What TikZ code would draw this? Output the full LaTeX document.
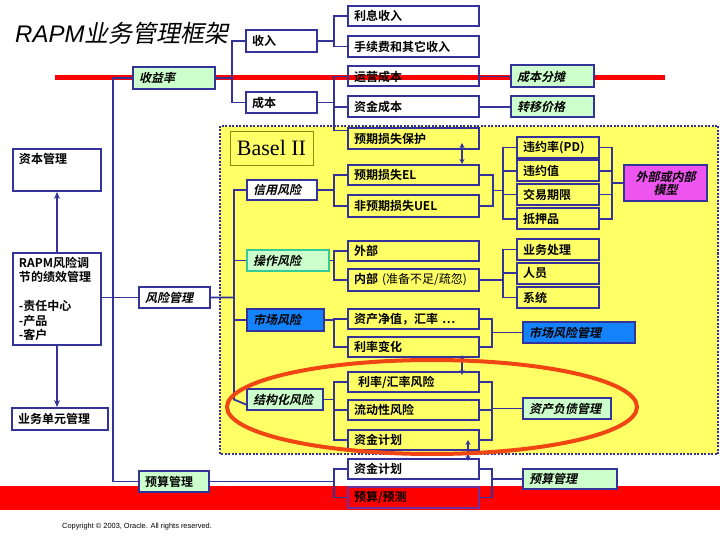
\documentclass[tikz,border=0pt]{standalone}
\usepackage{fontspec}
\usepackage{tikz}
\usetikzlibrary{
  arrows.meta,
  backgrounds,
  calc
}
\newfontfamily\cjk{Noto Sans CJK SC}
\newfontfamily\cjkbf{Noto Sans CJK SC Bold}
\newfontfamily\cjkit{Noto Sans CJK SC Bold}[FakeSlant=0.22]
\newfontfamily\cjktitle{Noto Sans CJK SC}[FakeSlant=0.2]
\newfontfamily\arial{Liberation Sans}
\newfontfamily\timesrm{Liberation Serif}
\definecolor{rapmnavy}{RGB}{51,51,153}
\definecolor{arrowblue}{RGB}{60,60,200}
\definecolor{paleleaf}{RGB}{204,255,204}
\definecolor{baselyellow}{RGB}{255,255,102}
\definecolor{mktblue}{RGB}{20,130,250}
\definecolor{opteal}{RGB}{51,204,153}
\definecolor{modelpink}{RGB}{238,85,238}
\definecolor{bandred}{RGB}{255,0,0}
\definecolor{ovalred}{RGB}{240,70,20}
\definecolor{budgetpurple}{RGB}{112,48,160}
\definecolor{baselolive}{RGB}{140,140,0}
\tikzset{
  itembox/.style={draw=rapmnavy,line width=2pt,fill=white,align=left,
    inner xsep=6pt,inner ysep=0pt,minimum height=21pt,
    font=\fontsize{12}{14}\cjkbf},
  leafbox/.style={itembox,fill=paleleaf},
  riskbox/.style={itembox,fill=baselyellow},
  tilted/.style={font=\fontsize{12}{14}\cjkit},
  colA/.style={text width=119pt},
  colB/.style={text width=70pt},
  treeline/.style={draw=rapmnavy,line width=1.8pt},
  upflow/.style={-{Stealth[length=7pt,width=6pt,fill=arrowblue]},
    line width=1.8pt,draw=rapmnavy},
  bothflow/.style={{Stealth[length=5pt,width=5pt,fill=arrowblue]}-{Stealth[length=5pt,width=5pt,fill=arrowblue]},
    line width=1.6pt,draw=rapmnavy}
}

\begin{document}
\begin{tikzpicture}[x=1pt,y=-1pt]
  \useasboundingbox (0,0) rectangle (720,540);

  \node[anchor=west,inner sep=0pt] (title) at (15,33)
    {{\fontsize{24}{26}\arial\itshape RAPM}{\fontsize{24}{26}\cjktitle 业务管理框架}};

  % revenue / cost tree
  \node[leafbox,tilted,text width=70pt,minimum height=22pt] (shouyilv) at (174,78) {收益率};
  \node[itembox,text width=59pt,minimum height=22pt] (shouru) at (281.5,41) {收入};
  \node[itembox,text width=59pt] (chengben) at (281.5,102.5) {成本};
  \node[itembox,colA,minimum height=20pt] (lixi) at (413.5,16) {利息收入};
  \node[itembox,colA] (shouxu) at (413.5,46.5) {手续费和其它收入};
  \node[itembox,colA,fill=none,minimum height=20pt] (yunying) at (413.5,76.5) {运营成本};
  \node[itembox,colA] (zijin) at (413.5,107) {资金成本};
  \node[leafbox,tilted,text width=71pt,minimum height=22pt] (ftfp) at (552.5,76.5) {成本分摊};
  \node[leafbox,tilted,text width=71pt] (zyjg) at (552.5,107) {转移价格};

  % left column
  \node[itembox,text width=76pt,minimum height=42pt,text depth=24pt] (zbgl) at (57,170) {资本管理};
  \node[itembox,text width=76pt,minimum height=92pt,
    font=\fontsize{12}{14.5}\cjkbf] (rapm) at (57,299)
    {RAPM风险调\\节的绩效管理\\[14.5pt]-责任中心\\-产品\\-客户};
  \node[itembox,text width=84pt,minimum height=22pt] (ywdy) at (60,419) {业务单元管理};
  \node[itembox,tilted,text width=59pt] (fxgl) at (174.5,297.5) {风险管理};
  \node[leafbox,text width=58pt] (ysgl) at (174,481.5) {预算管理};

  % Basel II risk types
  \node[draw=baselolive,line width=0.8pt,fill=baselyellow,minimum width=83pt,
    minimum height=34pt,font=\fontsize{22}{24}\timesrm] (basel) at (271.5,148) {Basel II};
  \node[itembox,tilted,text width=58pt,minimum height=20pt] (xinyong) at (282,190) {信用风险};
  \node[leafbox,tilted,draw=opteal,text width=70pt] (caozuo) at (288,260.5) {操作风险};
  \node[itembox,tilted,fill=mktblue,text width=65pt,minimum height=22pt] (shichang) at (285.5,320) {市场风险};
  \node[leafbox,tilted,text width=64pt] (jiegou) at (285,399.5) {结构化风险};

  \node[riskbox,colA] (yqbh) at (413.5,138.5) {预期损失保护};
  \node[riskbox,colA,minimum height=20pt] (el) at (413.5,175) {预期损失EL};
  \node[riskbox,colA,minimum height=22pt] (uel) at (413.5,206) {非预期损失UEL};
  \node[riskbox,colA,minimum height=20pt] (waibu) at (413.5,251) {外部};
  \node[riskbox,colA,minimum height=22pt] (neibu) at (413.5,280) {内部 {\cjk (准备不足/疏忽)}};
  \node[riskbox,colA,minimum height=20pt] (zcjz) at (413.5,319) {资产净值，汇率 …};
  \node[riskbox,colA,minimum height=20pt] (llbh) at (413.5,347) {利率变化};
  \node[riskbox,colA,minimum height=20pt] (llhl) at (413.5,382) {\ 利率/汇率风险};
  \node[riskbox,colA,minimum height=20pt] (ldx) at (413.5,410) {流动性风险};
  \node[riskbox,colA,minimum height=20pt] (zjjh1) at (413.5,440) {资金计划};
  \node[itembox,colA,minimum height=20pt] (zjjh2) at (413.5,469) {资金计划};
  \node[itembox,colA,fill=bandred,draw=budgetpurple] (yuce) at (413.5,497.5) {预算/预测};

  \node[riskbox,colB] (pd) at (558,147.5) {违约率(PD)};
  \node[riskbox,colB] (wyz) at (558,171) {违约值};
  \node[riskbox,colB] (jyqx) at (558,194.5) {交易期限};
  \node[riskbox,colB] (dyp) at (558,219) {抵押品};
  \node[riskbox,colB] (ywcl) at (558,249.5) {业务处理};
  \node[riskbox,colB] (renyuan) at (558,273) {人员};
  \node[riskbox,colB] (xitong) at (558,297.5) {系统};

  \node[itembox,tilted,fill=modelpink,align=center,text width=71pt,
    minimum height=36pt,font=\fontsize{12}{13}\cjkit] (moxing) at (665.5,183) {外部或内部\\模型};
  \node[itembox,tilted,fill=mktblue,text width=100pt] (scfx) at (579,332.5) {市场风险管理};
  \node[leafbox,tilted,text width=76pt] (zcfz) at (567,408.5) {资产负债管理};
  \node[leafbox,tilted,text width=82pt,minimum height=20pt] (ysgl2) at (570,479) {预算管理};

  \node[anchor=west,inner sep=0pt,font=\fontsize{7.4}{8}\arial] (copy) at (62,527)
    {Copyright © 2003, Oracle. All rights reserved.};

  \begin{scope}[on background layer]
    \draw[draw=rapmnavy,line width=2.5pt,dash pattern=on 2pt off 1.5pt,
      fill=baselyellow] (220,126) rectangle (718,454);
    \fill[bandred] (0,486) rectangle (720,510);
    \draw[bandred,line width=5pt] (55,78) -- (665,78);
  \end{scope}

  % connectors
  \draw[treeline] (shouyilv.east) -| ([xshift=-13pt]shouru.west) -- (shouru.west);
  \draw[treeline] (shouyilv.east) -| ([xshift=-13pt]chengben.west) -- (chengben.west);
  \draw[treeline] (shouru.east) -| ([xshift=-13pt]lixi.west) -- (lixi.west);
  \draw[treeline] (shouru.east) -| ([xshift=-13pt]shouxu.west) -- (shouxu.west);
  \draw[treeline] (chengben.east) -| ([xshift=-13pt]yunying.west) -- (yunying.west);
  \draw[treeline] (chengben.east) -| ([xshift=-13pt]zijin.west) -- (zijin.west);
  \draw[treeline] (chengben.east) -| ([xshift=-13pt,yshift=8pt]yqbh.west) -- ([yshift=8pt]yqbh.west);
  \draw[treeline] (yunying.east) -- (ftfp.west);
  \draw[treeline] (zijin.east) -- (zyjg.west);

  \draw[treeline] (shouyilv.west) -| ([xshift=-25pt]fxgl.west) -- (fxgl.west);
  \draw[treeline] (shouyilv.west) -| ([xshift=-25pt]ysgl.west) -- (ysgl.west);
  \draw[treeline] (rapm.east |- fxgl.west) -- (fxgl.west);
  \draw[upflow] (rapm.north) -- (zbgl.south);
  \draw[upflow] (rapm.south) -- (rapm.south |- ywdy.north);

  \draw[treeline] (fxgl.east) -| ([xshift=-12pt]xinyong.west) -- (xinyong.west);
  \draw[treeline] (fxgl.east) -| ([xshift=-12pt]caozuo.west) -- (caozuo.west);
  \draw[treeline] (fxgl.east) -| ([xshift=-12pt]shichang.west) -- (shichang.west);
  \draw[treeline] (fxgl.east) -| ([xshift=-12pt]jiegou.west) -- ([yshift=-5pt]jiegou.west);

  \draw[treeline] (xinyong.east) -| ([xshift=-13pt]el.west) -- (el.west);
  \draw[treeline] (xinyong.east) -| ([xshift=-13pt]uel.west) -- (uel.west);
  \draw[treeline] (caozuo.east) -| ([xshift=-13pt]waibu.west) -- (waibu.west);
  \draw[treeline] (caozuo.east) -| ([xshift=-13pt]neibu.west) -- (neibu.west);
  \draw[treeline] (shichang.east) -| ([xshift=-13pt]zcjz.west) -- (zcjz.west);
  \draw[treeline] (shichang.east) -| ([xshift=-13pt]llbh.west) -- (llbh.west);
  \draw[treeline] (jiegou.east) -| ([xshift=-13pt]llhl.west) -- (llhl.west);
  \draw[treeline] (jiegou.east) -| ([xshift=-13pt]ldx.west) -- (ldx.west);
  \draw[treeline] (jiegou.east) -| ([xshift=-13pt]zjjh1.west) -- (zjjh1.west);
  \draw[treeline] (ysgl.east) -| ([xshift=-13pt]zjjh2.west) -- (zjjh2.west);
  \draw[treeline] (ysgl.east) -| ([xshift=-13pt]yuce.west) -- (yuce.west);

  \coordinate (elj) at ($(el.east)!0.5!(uel.east)+(13,0)$);
  \draw[treeline] (el.east) -| (elj) |- (uel.east);
  \draw[treeline] (elj) -| ([xshift=-13pt]pd.west) -- (pd.west);
  \draw[treeline] (elj) -| ([xshift=-13pt]wyz.west) -- (wyz.west);
  \draw[treeline] (elj) -| ([xshift=-13pt]jyqx.west) -- (jyqx.west);
  \draw[treeline] (elj) -| ([xshift=-13pt]dyp.west) -- (dyp.west);
  \draw[treeline] (pd.east) -| ([xshift=-11pt]moxing.west) -- (moxing.west);
  \draw[treeline] (wyz.east) -| ([xshift=-11pt]moxing.west) -- (moxing.west);
  \draw[treeline] (jyqx.east) -| ([xshift=-11pt]moxing.west) -- (moxing.west);
  \draw[treeline] (dyp.east) -| ([xshift=-11pt]moxing.west) -- (moxing.west);

  \draw[treeline] (neibu.east) -| ([xshift=-13pt]ywcl.west) -- (ywcl.west);
  \draw[treeline] (neibu.east) -| ([xshift=-13pt]renyuan.west) -- (renyuan.west);
  \draw[treeline] (neibu.east) -| ([xshift=-13pt]xitong.west) -- (xitong.west);

  \draw[treeline] (zcjz.east) -| ([xshift=-30pt]scfx.west) -- (scfx.west);
  \draw[treeline] (llbh.east) -| ([xshift=-30pt]scfx.west) -- (scfx.west);
  \draw[treeline] (llhl.east) -| ([xshift=-30pt]zcfz.west) -- (zcfz.west);
  \draw[treeline] (ldx.east) -| ([xshift=-30pt]zcfz.west) -- (zcfz.west);
  \draw[treeline] (zjjh1.east) -| ([xshift=-30pt]zcfz.west) -- (zcfz.west);
  \draw[treeline] (zjjh2.east) -| ([xshift=-30pt]ysgl2.west) -- (ysgl2.west);
  \draw[treeline] (yuce.east) -| ([xshift=-30pt]ysgl2.west) -- (ysgl2.west);

  \draw[bothflow] ([xshift=48.5pt,yshift=7pt]yqbh.south) -- ([xshift=48.5pt]el.north);
  \draw[bothflow] ([xshift=48.5pt,yshift=3pt]llbh.south) -- ([xshift=48.5pt,yshift=-4pt]llhl.north);
  \draw[bothflow] ([xshift=54.5pt]zjjh1.center) -- ([xshift=54.5pt,yshift=-3pt]zjjh2.north);

  \draw[ovalred,line width=4pt] (432,407) ellipse [x radius=205,y radius=47];
\end{tikzpicture}
\end{document}
